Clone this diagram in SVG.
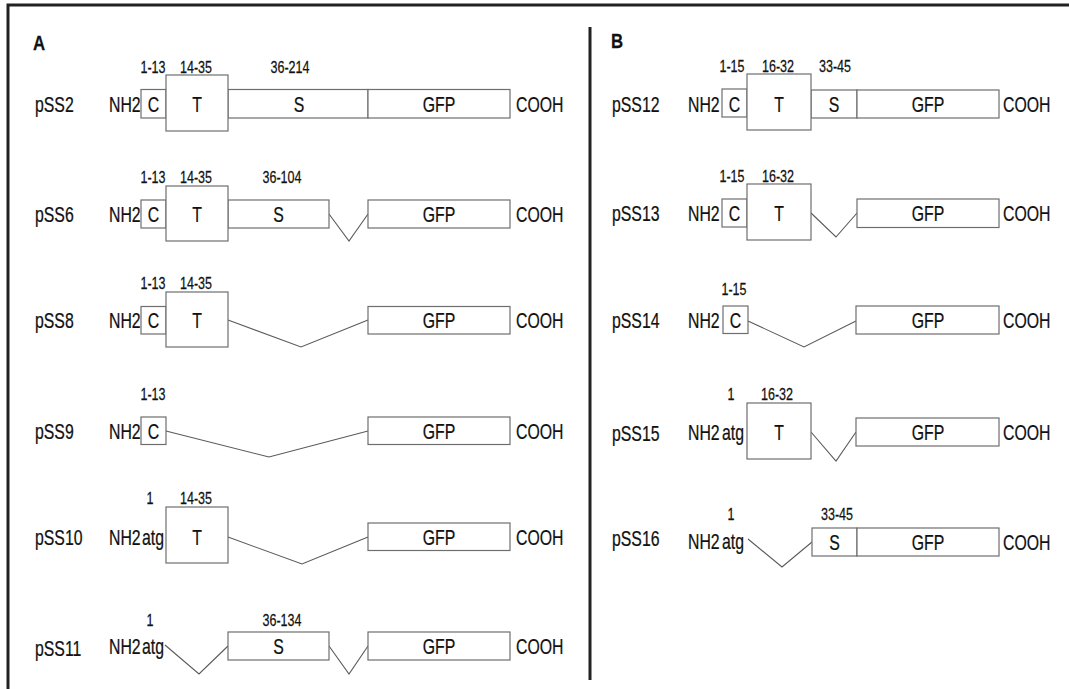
<svg xmlns="http://www.w3.org/2000/svg" width="1069" height="689" viewBox="0 0 1069 689">
<style>
text{font-family:"Liberation Sans",Arial,sans-serif;fill:#111;stroke:#111;stroke-width:0.25}
.b{font-size:22px}
.s{font-size:16.5px}
.h{font-size:21px;font-weight:bold}
.m{text-anchor:middle}
rect{fill:#fff;stroke:#6e6e6e;stroke-width:1.2}
.frame{stroke:#222;stroke-width:3;fill:none}
#connectors polyline{fill:none;stroke:#5a5a5a;stroke-width:1.1}
</style>
<rect width="1069" height="689" style="fill:#fff;stroke:none"/>
<g id="frame">
<path class="frame" d="M8,689 V5 H1069"/>
<path class="frame" d="M590,27 V680"/>
<text class="h" transform="translate(33,50) scale(.8 1)">A</text>
<text class="h" transform="translate(611,48) scale(.8 1)">B</text>
</g>

<g id="connectors">
<polyline points="329,214 349,241 368,214"/>
<polyline points="228,320 301,347 368,320"/>
<polyline points="166,431 269,457 368,431"/>
<polyline points="228,537 302,564 368,537"/>
<polyline points="165,645 199,674 228,646"/>
<polyline points="329,646 349,674 368,646"/>
<polyline points="811,213 836,237 857,213"/>
<polyline points="748,321 804,347 856,321"/>
<polyline points="811,432 836,461 856,432"/>
<polyline points="748,539 782,567 812,542"/>
</g>

<g id="pSS2">
<text class="b" transform="translate(35,112) scale(.72 1)">pSS2</text>
<text class="b" transform="translate(109,112) scale(.72 1)">NH2</text>
<rect x="141" y="89.5" width="25" height="28.5"/>
<rect x="228" y="89.5" width="140" height="28.5"/>
<rect x="368" y="89.5" width="142" height="28.5"/>
<rect x="166" y="75" width="62" height="56"/>
<text class="b m" transform="translate(153.5,112) scale(.72 1)">C</text>
<text class="b m" transform="translate(197,112) scale(.72 1)">T</text>
<text class="b m" transform="translate(299,112) scale(.72 1)">S</text>
<text class="b m" transform="translate(439,112) scale(.72 1)">GFP</text>
<text class="b" transform="translate(516,112) scale(.72 1)">COOH</text>
<text class="s m" transform="translate(153,73) scale(.76 1)">1-13</text>
<text class="s m" transform="translate(196,73) scale(.76 1)">14-35</text>
<text class="s m" transform="translate(290,73) scale(.76 1)">36-214</text>
</g>

<g id="pSS6">
<text class="b" transform="translate(35,222) scale(.72 1)">pSS6</text>
<text class="b" transform="translate(109,222) scale(.72 1)">NH2</text>
<rect x="141" y="200" width="25" height="28"/>
<rect x="228" y="200" width="101" height="28"/>
<rect x="368" y="200" width="142" height="28"/>
<rect x="166" y="186" width="62" height="55"/>
<text class="b m" transform="translate(153.5,222) scale(.72 1)">C</text>
<text class="b m" transform="translate(197,222) scale(.72 1)">T</text>
<text class="b m" transform="translate(278.5,222) scale(.72 1)">S</text>
<text class="b m" transform="translate(439,222) scale(.72 1)">GFP</text>
<text class="b" transform="translate(516,222) scale(.72 1)">COOH</text>
<text class="s m" transform="translate(153,183) scale(.76 1)">1-13</text>
<text class="s m" transform="translate(196,183) scale(.76 1)">14-35</text>
<text class="s m" transform="translate(282,183) scale(.76 1)">36-104</text>
</g>

<g id="pSS8">
<text class="b" transform="translate(35,328) scale(.72 1)">pSS8</text>
<text class="b" transform="translate(109,328) scale(.72 1)">NH2</text>
<rect x="141" y="306.5" width="25" height="27.5"/>
<rect x="368" y="306.5" width="142" height="27.5"/>
<rect x="166" y="292" width="62" height="55"/>
<text class="b m" transform="translate(153.5,328) scale(.72 1)">C</text>
<text class="b m" transform="translate(197,328) scale(.72 1)">T</text>
<text class="b m" transform="translate(439,328) scale(.72 1)">GFP</text>
<text class="b" transform="translate(516,328) scale(.72 1)">COOH</text>
<text class="s m" transform="translate(153,289) scale(.76 1)">1-13</text>
<text class="s m" transform="translate(196,289) scale(.76 1)">14-35</text>
</g>

<g id="pSS9">
<text class="b" transform="translate(35,439) scale(.72 1)">pSS9</text>
<text class="b" transform="translate(109,439) scale(.72 1)">NH2</text>
<rect x="141" y="417" width="25" height="27.5"/>
<rect x="368" y="417" width="142" height="27.5"/>
<text class="b m" transform="translate(153.5,439) scale(.72 1)">C</text>
<text class="b m" transform="translate(439,439) scale(.72 1)">GFP</text>
<text class="b" transform="translate(516,439) scale(.72 1)">COOH</text>
<text class="s m" transform="translate(153,400) scale(.76 1)">1-13</text>
</g>

<g id="pSS10">
<text class="b" transform="translate(35,545) scale(.72 1)">pSS10</text>
<text class="b" transform="translate(109,545) scale(.72 1)">NH2</text>
<text class="b" transform="translate(142,545) scale(.72 1)">atg</text>
<rect x="368" y="523" width="142" height="27.5"/>
<rect x="166" y="507" width="62" height="56"/>
<text class="b m" transform="translate(197,545) scale(.72 1)">T</text>
<text class="b m" transform="translate(439,545) scale(.72 1)">GFP</text>
<text class="b" transform="translate(516,545) scale(.72 1)">COOH</text>
<text class="s m" transform="translate(150,504) scale(.76 1)">1</text>
<text class="s m" transform="translate(196,504) scale(.76 1)">14-35</text>
</g>

<g id="pSS11">
<text class="b" transform="translate(35,656) scale(.72 1)">pSS11</text>
<text class="b" transform="translate(109,654) scale(.72 1)">NH2</text>
<text class="b" transform="translate(142,654) scale(.72 1)">atg</text>
<rect x="228" y="632" width="101" height="28"/>
<rect x="368" y="632" width="142" height="28"/>
<text class="b m" transform="translate(278.5,654) scale(.72 1)">S</text>
<text class="b m" transform="translate(439,654) scale(.72 1)">GFP</text>
<text class="b" transform="translate(516,654) scale(.72 1)">COOH</text>
<text class="s m" transform="translate(150,626) scale(.76 1)">1</text>
<text class="s m" transform="translate(282,626) scale(.76 1)">36-134</text>
</g>

<g id="pSS12">
<text class="b" transform="translate(612,112) scale(.72 1)">pSS12</text>
<text class="b" transform="translate(688,112) scale(.72 1)">NH2</text>
<rect x="722" y="89" width="25" height="28"/>
<rect x="811" y="90" width="46" height="28"/>
<rect x="857" y="90" width="142" height="28"/>
<rect x="747" y="74" width="64" height="56"/>
<text class="b m" transform="translate(734.5,112) scale(.72 1)">C</text>
<text class="b m" transform="translate(779,112) scale(.72 1)">T</text>
<text class="b m" transform="translate(834,112) scale(.72 1)">S</text>
<text class="b m" transform="translate(928,112) scale(.72 1)">GFP</text>
<text class="b" transform="translate(1003,112) scale(.72 1)">COOH</text>
<text class="s m" transform="translate(732,72) scale(.76 1)">1-15</text>
<text class="s m" transform="translate(778,72) scale(.76 1)">16-32</text>
<text class="s m" transform="translate(835,72) scale(.76 1)">33-45</text>
</g>

<g id="pSS13">
<text class="b" transform="translate(612,221) scale(.72 1)">pSS13</text>
<text class="b" transform="translate(688,221) scale(.72 1)">NH2</text>
<rect x="722" y="199" width="25" height="28"/>
<rect x="857" y="199" width="142" height="28.5"/>
<rect x="747" y="184" width="64" height="56"/>
<text class="b m" transform="translate(734.5,221) scale(.72 1)">C</text>
<text class="b m" transform="translate(779,221) scale(.72 1)">T</text>
<text class="b m" transform="translate(928,221) scale(.72 1)">GFP</text>
<text class="b" transform="translate(1003,221) scale(.72 1)">COOH</text>
<text class="s m" transform="translate(732,182) scale(.76 1)">1-15</text>
<text class="s m" transform="translate(778,182) scale(.76 1)">16-32</text>
</g>

<g id="pSS14">
<text class="b" transform="translate(612,328) scale(.72 1)">pSS14</text>
<text class="b" transform="translate(688,328) scale(.72 1)">NH2</text>
<rect x="723" y="306" width="25" height="27.5"/>
<rect x="856" y="306" width="143" height="28"/>
<text class="b m" transform="translate(735.5,328) scale(.72 1)">C</text>
<text class="b m" transform="translate(928,328) scale(.72 1)">GFP</text>
<text class="b" transform="translate(1003,328) scale(.72 1)">COOH</text>
<text class="s m" transform="translate(734,295) scale(.76 1)">1-15</text>
</g>

<g id="pSS15">
<text class="b" transform="translate(612,441) scale(.72 1)">pSS15</text>
<text class="b" transform="translate(688,440) scale(.72 1)">NH2</text>
<text class="b" transform="translate(722,440) scale(.72 1)">atg</text>
<rect x="856" y="418" width="143" height="28"/>
<rect x="747" y="403" width="64" height="56"/>
<text class="b m" transform="translate(779,440) scale(.72 1)">T</text>
<text class="b m" transform="translate(928,440) scale(.72 1)">GFP</text>
<text class="b" transform="translate(1003,440) scale(.72 1)">COOH</text>
<text class="s m" transform="translate(731,400) scale(.76 1)">1</text>
<text class="s m" transform="translate(777,400) scale(.76 1)">16-32</text>
</g>

<g id="pSS16">
<text class="b" transform="translate(612,546) scale(.72 1)">pSS16</text>
<text class="b" transform="translate(688,549) scale(.72 1)">NH2</text>
<text class="b" transform="translate(722,549) scale(.72 1)">atg</text>
<rect x="812" y="528" width="45" height="28"/>
<rect x="857" y="528" width="142" height="28"/>
<text class="b m" transform="translate(834.5,550) scale(.72 1)">S</text>
<text class="b m" transform="translate(928,550) scale(.72 1)">GFP</text>
<text class="b" transform="translate(1003,550) scale(.72 1)">COOH</text>
<text class="s m" transform="translate(731,520) scale(.76 1)">1</text>
<text class="s m" transform="translate(837,520) scale(.76 1)">33-45</text>
</g>
</svg>
